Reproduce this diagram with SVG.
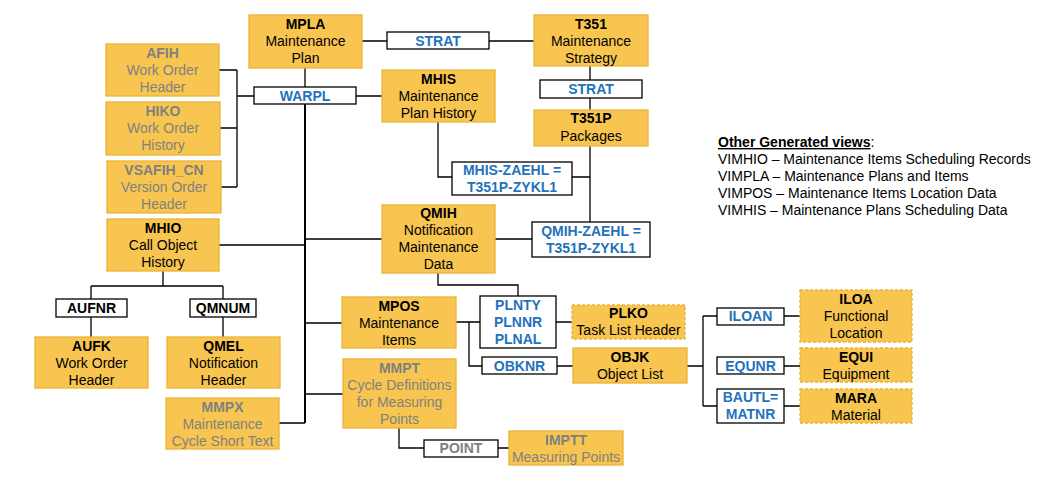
<svg xmlns="http://www.w3.org/2000/svg" width="1058" height="482" viewBox="0 0 1058 482">
<style>
.n{fill:#F8C650;stroke:#EAB236;stroke-width:1.3}
.d{stroke-dasharray:3,2}
.k{fill:#fff;stroke:#000;stroke-width:1.3}
text{font-family:"Liberation Sans",Arial,sans-serif;font-size:14px;text-anchor:middle;fill:#000}
.b{font-weight:bold}
.g{fill:#808080}
.bl{fill:#1F72BC;font-weight:bold}
.c{fill:none;stroke:#000;stroke-width:1.3}
.t{fill:none;stroke:#000;stroke-width:2}
</style>
<rect width="1058" height="482" fill="#fff"/>
<g id="connectors">
<path class="c" d="M362,41H387M489,41H534M590,66V80M590,98V110M305,68V87M356,96H382M254,96H237M237,70V187M219,70H237M220,128H237M221,187H237"/>
<path class="t" d="M305,104V423"/>
<path class="c" d="M219,245H305M305,239H382M305,323H342M305,394H343M279,423H305"/>
<path class="c" d="M438,122V177H452M572,177H590M590,146V222M495,239H532M438,273V285H518V296M456,322H480M469,322V366H482M556,322H572M557,366H573M687,366H703M703,316V406M703,316H717M703,406H717M784,316H800M784,366H800M784,406H800"/>
<path class="c" d="M163,271V286M91,286H223M91,286V299M223,286V299M91,317V337M223,317V337M399,428V448H424M498,448H509"/>
</g>
<g id="MPLA"><rect class="n" x="249" y="15" width="113" height="53"/><text class="b" x="305.5" y="29">MPLA</text><text x="305.5" y="46">Maintenance</text><text x="305.5" y="63">Plan</text></g>
<g id="STRAT1"><rect class="k" x="387" y="32" width="102" height="17"/><text class="bl" x="438" y="46">STRAT</text></g>
<g id="T351"><rect class="n" x="534" y="15" width="114" height="51"/><text class="b" x="591" y="29">T351</text><text x="591" y="46">Maintenance</text><text x="591" y="63">Strategy</text></g>
<g id="STRAT2"><rect class="k" x="540" y="80" width="102" height="18"/><text class="bl" x="591" y="94">STRAT</text></g>
<g id="T351P"><rect class="n" x="534" y="110" width="114" height="36"/><text class="b" x="591" y="123">T351P</text><text x="591" y="141">Packages</text></g>
<g id="AFIH"><rect class="n" x="106" y="44" width="113" height="52"/><text class="b g" x="162.5" y="58">AFIH</text><text class="g" x="162.5" y="75">Work Order</text><text class="g" x="162.5" y="92">Header</text></g>
<g id="HIKO"><rect class="n" x="106" y="102" width="114" height="53"/><text class="b g" x="163" y="116">HIKO</text><text class="g" x="163" y="133">Work Order</text><text class="g" x="163" y="150">History</text></g>
<g id="VSAFIH_CN"><rect class="n" x="107" y="161" width="114" height="52"/><text class="b g" x="164" y="175">VSAFIH_CN</text><text class="g" x="164" y="192">Version Order</text><text class="g" x="164" y="209">Header</text></g>
<g id="WARPL"><rect class="k" x="254" y="87" width="102" height="17"/><text class="bl" x="305" y="101">WARPL</text></g>
<g id="MHIS"><rect class="n" x="382" y="70" width="113" height="52"/><text class="b" x="438.5" y="84">MHIS</text><text x="438.5" y="101">Maintenance</text><text x="438.5" y="118">Plan History</text></g>
<g id="MHIS-ZAEHL"><rect class="k" x="452" y="162" width="120" height="33"/><text class="bl" x="512" y="175">MHIS-ZAEHL =</text><text class="bl" x="512" y="192">T351P-ZYKL1</text></g>
<g id="QMIH-ZAEHL"><rect class="k" x="532" y="222" width="118" height="35"/><text class="bl" x="591" y="236">QMIH-ZAEHL =</text><text class="bl" x="591" y="253">T351P-ZYKL1</text></g>
<g id="QMIH"><rect class="n" x="382" y="205" width="113" height="68"/><text class="b" x="438.5" y="218">QMIH</text><text x="438.5" y="235">Notification</text><text x="438.5" y="252">Maintenance</text><text x="438.5" y="269">Data</text></g>
<g id="MHIO"><rect class="n" x="107" y="219" width="112" height="52"/><text class="b" x="163" y="233">MHIO</text><text x="163" y="250">Call Object</text><text x="163" y="267">History</text></g>
<g id="AUFNR"><rect class="k" x="56" y="299" width="71" height="18"/><text class="b" x="91.5" y="313">AUFNR</text></g>
<g id="QMNUM"><rect class="k" x="190" y="299" width="66" height="18"/><text class="b" x="223" y="313">QMNUM</text></g>
<g id="AUFK"><rect class="n" x="35" y="337" width="113" height="51"/><text class="b" x="91.5" y="351">AUFK</text><text x="91.5" y="368">Work Order</text><text x="91.5" y="385">Header</text></g>
<g id="QMEL"><rect class="n" x="167" y="337" width="113" height="51"/><text class="b" x="223.5" y="351">QMEL</text><text x="223.5" y="368">Notification</text><text x="223.5" y="385">Header</text></g>
<g id="MMPX"><rect class="n" x="166" y="398" width="113" height="51"/><text class="b g" x="222.5" y="412">MMPX</text><text class="g" x="222.5" y="429">Maintenance</text><text class="g" x="222.5" y="446">Cycle Short Text</text></g>
<g id="MPOS"><rect class="n" x="342" y="297" width="114" height="51"/><text class="b" x="399" y="311">MPOS</text><text x="399" y="328">Maintenance</text><text x="399" y="345">Items</text></g>
<g id="PLNTY"><rect class="k" x="480" y="296" width="76" height="52"/><text class="bl" x="518" y="310">PLNTY</text><text class="bl" x="518" y="327">PLNNR</text><text class="bl" x="518" y="344">PLNAL</text></g>
<g id="PLKO"><rect class="n d" x="572" y="305" width="113" height="34"/><text class="b" x="628.5" y="318">PLKO</text><text x="628.5" y="335">Task List Header</text></g>
<g id="OBKNR"><rect class="k" x="482" y="357" width="75" height="17"/><text class="bl" x="519.5" y="371">OBKNR</text></g>
<g id="OBJK"><rect class="n" x="573" y="348" width="114" height="35"/><text class="b" x="630" y="362">OBJK</text><text x="630" y="379">Object List</text></g>
<g id="MMPT"><rect class="n" x="343" y="359" width="113" height="69"/><text class="b g" x="399.5" y="373">MMPT</text><text class="g" x="399.5" y="390">Cycle Definitions</text><text class="g" x="399.5" y="407">for Measuring</text><text class="g" x="399.5" y="424">Points</text></g>
<g id="POINT"><rect class="k" x="424" y="440" width="74" height="17"/><text class="b g" x="461" y="453">POINT</text></g>
<g id="IMPTT"><rect class="n" x="509" y="431" width="114" height="34"/><text class="b g" x="566" y="445">IMPTT</text><text class="g" x="566" y="462">Measuring Points</text></g>
<g id="ILOAN"><rect class="k" x="717" y="308" width="67" height="17"/><text class="bl" x="750.5" y="321">ILOAN</text></g>
<g id="EQUNR"><rect class="k" x="717" y="357" width="67" height="17"/><text class="bl" x="750.5" y="371">EQUNR</text></g>
<g id="BAUTL"><rect class="k" x="717" y="389" width="67" height="34"/><text class="bl" x="750.5" y="402">BAUTL=</text><text class="bl" x="750.5" y="419">MATNR</text></g>
<g id="ILOA"><rect class="n d" x="800" y="290" width="112" height="52"/><text class="b" x="856" y="304">ILOA</text><text x="856" y="321">Functional</text><text x="856" y="338">Location</text></g>
<g id="EQUI"><rect class="n d" x="800" y="348" width="112" height="34"/><text class="b" x="856" y="362">EQUI</text><text x="856" y="379">Equipment</text></g>
<g id="MARA"><rect class="n d" x="800" y="389" width="112" height="34"/><text class="b" x="856" y="403">MARA</text><text x="856" y="420">Material</text></g>
<g id="legend">
<text x="718" y="147" style="text-anchor:start"><tspan class="b" text-decoration="underline">Other Generated views</tspan>:</text>
<text x="718" y="164" style="text-anchor:start">VIMHIO – Maintenance Items Scheduling Records</text>
<text x="718" y="181" style="text-anchor:start">VIMPLA – Maintenance Plans and Items</text>
<text x="718" y="198" style="text-anchor:start">VIMPOS – Maintenance Items Location Data</text>
<text x="718" y="215" style="text-anchor:start">VIMHIS – Maintenance Plans Scheduling Data</text>
</g>
</svg>
